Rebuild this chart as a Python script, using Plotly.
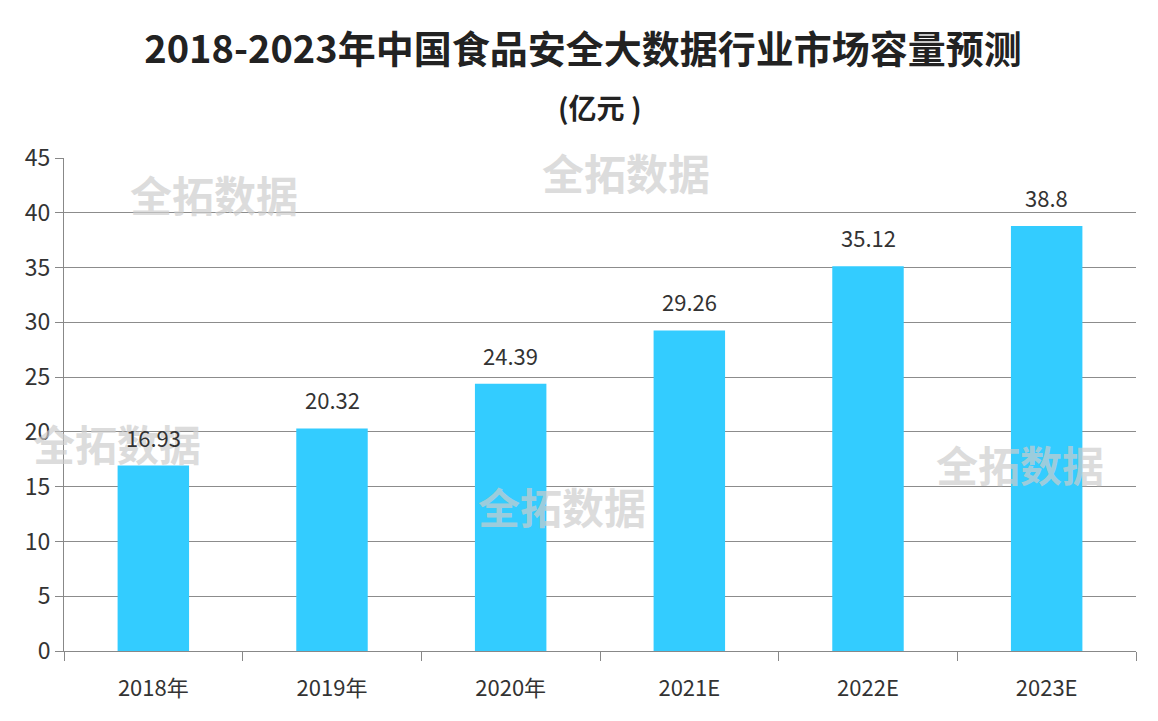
import plotly.graph_objects as go

years = ["2018年", "2019年", "2020年", "2021E", "2022E", "2023E"]
values = [16.93, 20.32, 24.39, 29.26, 35.12, 38.8]
value_labels = ["16.93", "20.32", "24.39", "29.26", "35.12", "38.8"]

font_cn = "Noto Sans CJK SC"

fig = go.Figure()
fig.add_trace(go.Bar(
    x=years,
    y=values,
    marker_color='#33ccff',
    marker_line_width=0,
    width=0.4,
    hoverinfo='x+y'
))

# watermarks (drawn first so the labels sit on top)
marks = [(0.140, 0.929), (0.524, 0.972), (0.049, 0.422), (0.465, 0.296), (0.892, 0.381)]
for mx, my in marks:
    fig.add_annotation(x=mx, y=my, xref='paper', yref='paper', text='<b>全拓数据</b>',
                       showarrow=False, xanchor='center', yanchor='middle',
                       font=dict(family=font_cn, size=42, color='rgba(205,205,205,0.7)'))

# value labels over the bars
for yr, v, lab in zip(years, values, value_labels):
    fig.add_annotation(x=yr, y=v, text=lab, showarrow=False,
                       yanchor='bottom', yshift=11,
                       font=dict(family=font_cn, size=22, color='#333333'))

fig.add_annotation(x=0.5, y=(651 - 107) / 493, xref='paper', yref='paper',
                   text='<b>(亿元 )</b>', showarrow=False,
                   xanchor='center', yanchor='middle',
                   font=dict(family=font_cn, size=28, color='#222222'))

# the page has an 8px body margin, so the figure is 8px smaller each way
fig.update_layout(
    width=1150,
    height=713,
    title=dict(text='<b>2018-2023年中国食品安全大数据行业市场容量预测</b>',
               x=0.5, xanchor='center', y=1 - 42 / 713, yanchor='middle',
               font=dict(family=font_cn, size=38, color='#222222')),
    margin=dict(l=56, r=22, t=150, b=70, autoexpand=False),
    plot_bgcolor='white',
    paper_bgcolor='white',
    showlegend=False,
    xaxis=dict(
        type='category',
        tickson='boundaries',
        ticks='outside',
        ticklen=9,
        tickcolor='#888888',
        showline=True,
        linecolor='#888888',
        linewidth=1,
        showgrid=False,
        ticklabelstandoff=18,
        automargin=False,
        tickfont=dict(family=font_cn, size=22, color='#333333')
    ),
    yaxis=dict(
        range=[0, 45],
        dtick=5,
        ticks='outside',
        ticklen=8,
        tickcolor='#888888',
        showline=True,
        linecolor='#888888',
        linewidth=1,
        showgrid=True,
        gridcolor='#8c8c8c',
        gridwidth=1,
        zeroline=False,
        automargin=False,
        tickfont=dict(family=font_cn, size=23, color='#333333')
    )
)

fig.write_html("out.html")
